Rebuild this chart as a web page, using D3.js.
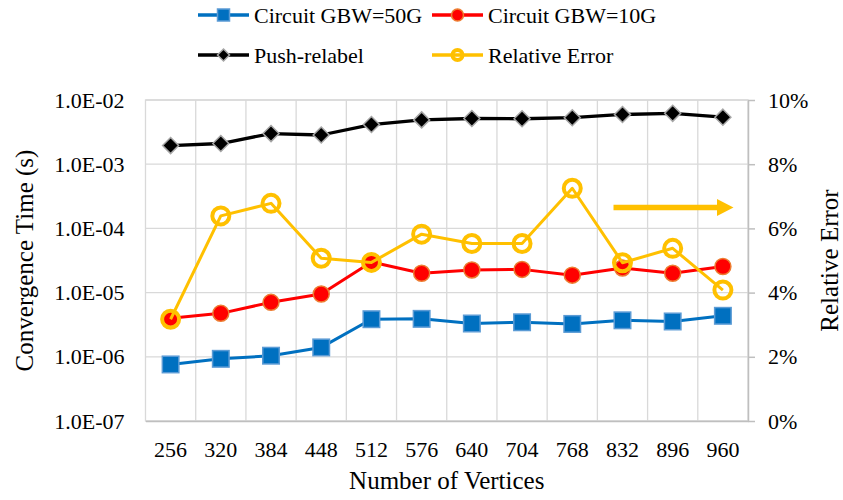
<!DOCTYPE html>
<html>
<head>
<meta charset="utf-8">
<script src="https://cdn.jsdelivr.net/npm/d3@7"></script>
<style>
  body { margin: 0; background: #fff; }
  svg text { font-family: "Liberation Serif", "Times New Roman", serif !important; fill: #000; }
</style>
</head>
<body>
<svg id="chart" width="843" height="500"></svg>
<script>
// Number of vertices (x categories)
const vertices = [256, 320, 384, 448, 512, 576, 640, 704, 768, 832, 896, 960];

// Convergence time in seconds (left, log axis)
const circuit50G = [7.6e-7, 9.3e-7, 1.04e-6, 1.4e-6, 3.85e-6, 3.9e-6, 3.3e-6, 3.45e-6, 3.25e-6, 3.7e-6, 3.55e-6, 4.35e-6];
const circuit10G = [4.0e-6, 4.75e-6, 7.05e-6, 9.5e-6, 3.0e-5, 2.0e-5, 2.25e-5, 2.3e-5, 1.87e-5, 2.42e-5, 2.0e-5, 2.55e-5];
const pushRelabel = [1.95e-3, 2.1e-3, 3.0e-3, 2.85e-3, 4.15e-3, 4.9e-3, 5.15e-3, 5.1e-3, 5.3e-3, 5.95e-3, 6.2e-3, 5.4e-3];

// Relative error (right, linear axis)
const relativeError = [0.0317, 0.0639, 0.0678, 0.0507, 0.0494, 0.0582, 0.0553, 0.0553, 0.0725, 0.0493, 0.0538, 0.0408];

// Axis ticks
const leftTicks = [1e-7, 1e-6, 1e-5, 1e-4, 1e-3, 1e-2];
const rightTicks = [0, 0.02, 0.04, 0.06, 0.08, 0.10];

const seriesNames = ["Circuit GBW=50G", "Circuit GBW=10G", "Push-relabel", "Relative Error"];

const serif = "'Liberation Serif', 'Times New Roman', serif";
const svg = d3.select("#chart");
const plot = { left: 145.5, right: 748, top: 100, bottom: 421 };

const x = d3.scaleBand().domain(vertices).range([plot.left, plot.right]).padding(0);
const cx = v => x(v) + x.bandwidth() / 2;
const yL = d3.scaleLog().domain([1e-7, 1e-2]).range([plot.bottom, plot.top]);
const yR = d3.scaleLinear().domain([0, 0.1]).range([plot.bottom, plot.top]);

const gridColor = "#D9D9D9";
const axisColor = "#BFBFBF";

// Gridlines
const grid = svg.append("g");
grid.selectAll("line.h").data(leftTicks).join("line")
  .attr("x1", plot.left).attr("x2", plot.right)
  .attr("y1", d => yL(d)).attr("y2", d => yL(d))
  .attr("stroke", gridColor).attr("stroke-width", 1.3);
grid.selectAll("line.v").data(vertices.slice(1)).join("line")
  .attr("x1", d => x(d)).attr("x2", d => x(d))
  .attr("y1", plot.top).attr("y2", plot.bottom)
  .attr("stroke", gridColor).attr("stroke-width", 1.3);
grid.append("rect")
  .attr("x", plot.left).attr("y", plot.top)
  .attr("width", plot.right - plot.left).attr("height", plot.bottom - plot.top)
  .attr("fill", "none").attr("stroke", gridColor).attr("stroke-width", 1.3);

// Left axis
const fmtExp = d => {
  const e = Math.round(Math.log10(d));
  return "1.0E" + (e < 0 ? "-" : "+") + String(Math.abs(e)).padStart(2, "0");
};
const gL = svg.append("g").attr("transform", `translate(${plot.left},0)`)
  .call(d3.axisLeft(yL).tickValues(leftTicks).tickFormat(fmtExp).tickSize(0).tickPadding(21));
gL.select(".domain").remove();

// Right axis
const gR = svg.append("g").attr("transform", `translate(${plot.right},0)`)
  .call(d3.axisRight(yR).tickValues(rightTicks).tickFormat(d3.format(".0%")).tickSize(7).tickPadding(13).tickSizeOuter(0));
gR.select(".domain").attr("stroke", axisColor).attr("stroke-width", 1.5);
gR.selectAll(".tick line").attr("stroke", axisColor).attr("stroke-width", 1.5);

// Bottom axis
const gB = svg.append("g").attr("transform", `translate(0,${plot.bottom})`)
  .call(d3.axisBottom(x).tickSize(0).tickPadding(20).tickSizeOuter(0));
gB.select(".domain").attr("stroke", axisColor).attr("stroke-width", 1.5);

[gL, gR, gB].forEach(g => g.attr("font-family", serif).attr("font-size", 22));
svg.selectAll(".tick text").style("font-family", serif).style("font-size", "22px").attr("fill", "#000");

// Axis titles
svg.append("text").attr("x", (plot.left + plot.right) / 2).attr("y", 489)
  .attr("text-anchor", "middle").style("font-size", "25px").text("Number of Vertices");
svg.append("text").attr("transform", `translate(33,${(plot.top + plot.bottom) / 2}) rotate(-90)`)
  .attr("text-anchor", "middle").style("font-size", "25px").text("Convergence Time (s)");
svg.append("text").attr("transform", `translate(838,${(plot.top + plot.bottom) / 2}) rotate(-90)`)
  .attr("text-anchor", "middle").style("font-size", "25px").text("Relative Error");

// Marker drawers
const markers = {
  square: (g, s) => g.append("rect").attr("x", -s / 2).attr("y", -s / 2).attr("width", s).attr("height", s)
    .attr("fill", "#0070C0").attr("stroke", "#5B9BD5").attr("stroke-width", 1.5),
  dot: (g, s) => g.append("circle").attr("r", s / 2)
    .attr("fill", "#FF0000").attr("stroke", "#ED7D31").attr("stroke-width", 1.5),
  diamond: (g, s) => g.append("path").attr("d", `M0,${-s / 2}L${s / 2},0L0,${s / 2}L${-s / 2},0Z`)
    .attr("fill", "#000").attr("stroke", "#A6A6A6").attr("stroke-width", 1.5),
  ring: (g, s) => g.append("circle").attr("r", s / 2)
    .attr("fill", "none").attr("stroke", "#FFC000").attr("stroke-width", 4)
};

const series = [
  { name: seriesNames[0], values: circuit50G, y: yL, color: "#0070C0", width: 3, marker: "square", size: 16.5, lsize: 12 },
  { name: seriesNames[1], values: circuit10G, y: yL, color: "#FF0000", width: 3, marker: "dot", size: 16, lsize: 12 },
  { name: seriesNames[2], values: pushRelabel, y: yL, color: "#000000", width: 3.3, marker: "diamond", size: 16, lsize: 12 },
  { name: seriesNames[3], values: relativeError, y: yR, color: "#FFC000", width: 3, marker: "ring", size: 17, lsize: 10 }
];

series.forEach(s => {
  const g = svg.append("g");
  const line = d3.line().x((d, i) => cx(vertices[i])).y(d => s.y(d));
  g.append("path").datum(s.values).attr("d", line)
    .attr("fill", "none").attr("stroke", s.color).attr("stroke-width", s.width).attr("stroke-linejoin", "round");
  s.values.forEach((v, i) => {
    const m = g.append("g").attr("transform", `translate(${cx(vertices[i])},${s.y(v)})`);
    markers[s.marker](m, s.size);
  });
});

// Arrow pointing toward the right-hand axis
const arrowY = yR(0.0665);
const arrow = svg.append("g");
arrow.append("line").attr("x1", 613.5).attr("x2", 718).attr("y1", arrowY).attr("y2", arrowY)
  .attr("stroke", "#FFC000").attr("stroke-width", 5.5);
arrow.append("path").attr("d", `M717,${arrowY - 8.5}L733.5,${arrowY}L717,${arrowY + 8.5}Z`).attr("fill", "#FFC000");

// Legend
const legendPos = [[198, 15], [432, 15], [198, 55], [432, 55]];
series.forEach((s, i) => {
  const [lx, ly] = legendPos[i];
  const g = svg.append("g").attr("transform", `translate(${lx},${ly})`);
  g.append("line").attr("x1", 0).attr("x2", 51).attr("stroke", s.color).attr("stroke-width", 3.3);
  const m = g.append("g").attr("transform", "translate(25.5,0)");
  markers[s.marker](m, s.lsize);
  g.append("text").attr("x", 56).attr("y", 0).attr("dy", "0.35em").style("font-size", "22px").text(s.name);
});
</script>
</body>
</html>
